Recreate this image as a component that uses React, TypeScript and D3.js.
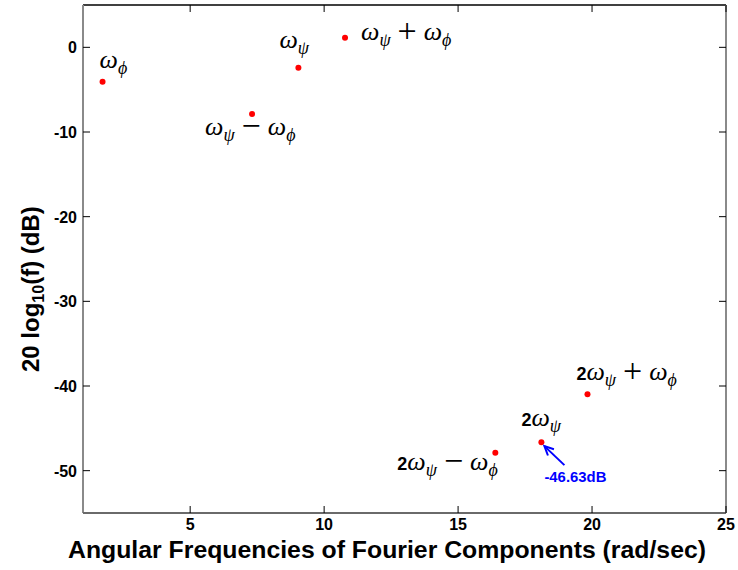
import React from "react";
import * as d3 from "d3";

// ---- data ----
const freqs = [1.73, 7.31, 9.04, 10.78, 16.39, 18.11, 19.83];
const levels = [-4.06, -7.87, -2.4, 1.14, -47.88, -46.63, -40.98];
const prefixes = ["", "", "", "", "2", "2", "2"];
const firstSub = ["ϕ", "ψ", "ψ", "ψ", "ψ", "ψ", "ψ"];
const operators = ["", "−", "", "+", "−", "", "+"];
const secondSub = ["", "ϕ", "", "ϕ", "ϕ", "", "ϕ"];
const xTicks = [5, 10, 15, 20, 25];
const yTicks = [0, -10, -20, -30, -40, -50];
const annotationText = "-46.63dB";
const annotationIndex = 5;

// ---- layout (label offsets from their points, pixels) ----
const labelDx = [-3, -47, -19, 16, -98, -20, -11];
const labelDy = [-14, 21, -20, 2.5, 17, -16, -14];

const W = 738;
const H = 570;
const M = { left: 83, right: 726, top: 5, bottom: 513 };

const mathFont = "'Liberation Serif', 'DejaVu Serif', serif";
const sansFont = "Arial, 'Liberation Sans', sans-serif";

function MathLabel({ x, y, i }: { x: number; y: number; i: number }) {
  return (
    <text x={x} y={y} fill="#000" fontFamily={mathFont} fontSize={26}>
      {prefixes[i] && (
        <tspan fontFamily={sansFont} fontWeight="bold" fontSize={18}>
          {prefixes[i]}
        </tspan>
      )}
      <tspan fontStyle="italic">ω</tspan>
      <tspan fontStyle="italic" fontSize={18} dy={6}>
        {firstSub[i]}
      </tspan>
      {operators[i] && (
        <tspan dy={-4} dx={7} fontSize={34}>
          {operators[i]}
        </tspan>
      )}
      {secondSub[i] && (
        <>
          <tspan fontStyle="italic" dx={7} dy={-2}>
            ω
          </tspan>
          <tspan fontStyle="italic" fontSize={18} dy={6}>
            {secondSub[i]}
          </tspan>
        </>
      )}
    </text>
  );
}

export default function App() {
  const x = d3.scaleLinear().domain([1, 25]).range([M.left, M.right]);
  const y = d3.scaleLinear().domain([-55, 5]).range([M.bottom, M.top]);
  const tickLen = 7;

  const ax = x(freqs[annotationIndex]);
  const ay = y(levels[annotationIndex]);
  const arrowStart: [number, number] = [ax + 23, ay + 23];
  const arrowEnd: [number, number] = [ax + 3, ay + 4];
  const ang = Math.atan2(arrowEnd[1] - arrowStart[1], arrowEnd[0] - arrowStart[0]);
  const headLen = 10;
  const headA = 0.45;
  const h1 = [
    arrowEnd[0] - headLen * Math.cos(ang - headA),
    arrowEnd[1] - headLen * Math.sin(ang - headA),
  ];
  const h2 = [
    arrowEnd[0] - headLen * Math.cos(ang + headA),
    arrowEnd[1] - headLen * Math.sin(ang + headA),
  ];

  return (
    <svg
      width={W}
      height={H}
      style={{ position: "absolute", left: 0, top: 0, background: "#fff" }}
    >
      <rect width={W} height={H} fill="#fff" />
      {/* axes box */}
      <line x1={M.left} x2={M.right} y1={M.top} y2={M.top} stroke="#000" strokeWidth={1.5} />
      <line x1={M.left} x2={M.left} y1={M.top} y2={M.bottom} stroke="#8a8a8a" strokeWidth={2} />
      <line x1={M.right} x2={M.right} y1={M.top} y2={M.bottom} stroke="#8a8a8a" strokeWidth={2} />
      <line x1={M.left} x2={M.right} y1={M.bottom} y2={M.bottom} stroke="#6a6a6a" strokeWidth={2} />

      {/* x ticks */}
      {xTicks.map((t) => (
        <g key={"xt" + t}>
          <line x1={x(t)} x2={x(t)} y1={M.bottom} y2={M.bottom - tickLen} stroke="#000" />
          <line x1={x(t)} x2={x(t)} y1={M.top} y2={M.top + tickLen} stroke="#000" />
          <text
            x={x(t)}
            y={M.bottom + 17}
            textAnchor="middle"
            fontFamily={sansFont}
            fontWeight="bold"
            fontSize={16}
            fill="#000"
          >
            {t}
          </text>
        </g>
      ))}
      {/* y ticks */}
      {yTicks.map((t) => (
        <g key={"yt" + t}>
          <line x1={M.left} x2={M.left + tickLen} y1={y(t)} y2={y(t)} stroke="#000" />
          <line x1={M.right} x2={M.right - tickLen} y1={y(t)} y2={y(t)} stroke="#000" />
          <text
            x={M.left - 6}
            y={y(t) + 6}
            textAnchor="end"
            fontFamily={sansFont}
            fontWeight="bold"
            fontSize={16}
            fill="#000"
          >
            {t}
          </text>
        </g>
      ))}

      {/* axis titles */}
      <text
        x={68}
        y={558}
        textLength={638}
        lengthAdjust="spacingAndGlyphs"
        fontFamily={sansFont}
        fontWeight="bold"
        fontSize={24}
        fill="#000"
      >
        Angular Frequencies of Fourier Components (rad/sec)
      </text>
      <text
        transform={`translate(39, 372) rotate(-90)`}
        fontFamily={sansFont}
        fontWeight="bold"
        fontSize={24}
        fill="#000"
      >
        20 log
        <tspan fontSize={16} dy={5}>
          10
        </tspan>
        <tspan dy={-5}>(f) (dB)</tspan>
      </text>

      {/* points */}
      {freqs.map((f, i) => (
        <circle key={"p" + i} cx={x(f)} cy={y(levels[i])} r={3} fill="#ff0000" />
      ))}

      {/* labels */}
      {freqs.map((f, i) => (
        <MathLabel key={"l" + i} x={x(f) + labelDx[i]} y={y(levels[i]) + labelDy[i]} i={i} />
      ))}

      {/* annotation */}
      <line
        x1={arrowStart[0]}
        y1={arrowStart[1]}
        x2={arrowEnd[0]}
        y2={arrowEnd[1]}
        stroke="#0000ff"
        strokeWidth={2}
      />
      <polyline
        points={`${h1[0]},${h1[1]} ${arrowEnd[0]},${arrowEnd[1]} ${h2[0]},${h2[1]}`}
        fill="none"
        stroke="#0000ff"
        strokeWidth={2}
      />
      <text
        x={ax + 3}
        y={ay + 40}
        textLength={62}
        lengthAdjust="spacingAndGlyphs"
        fontFamily={sansFont}
        fontWeight="bold"
        fontSize={15}
        fill="#0000ff"
      >
        {annotationText}
      </text>
    </svg>
  );
}
